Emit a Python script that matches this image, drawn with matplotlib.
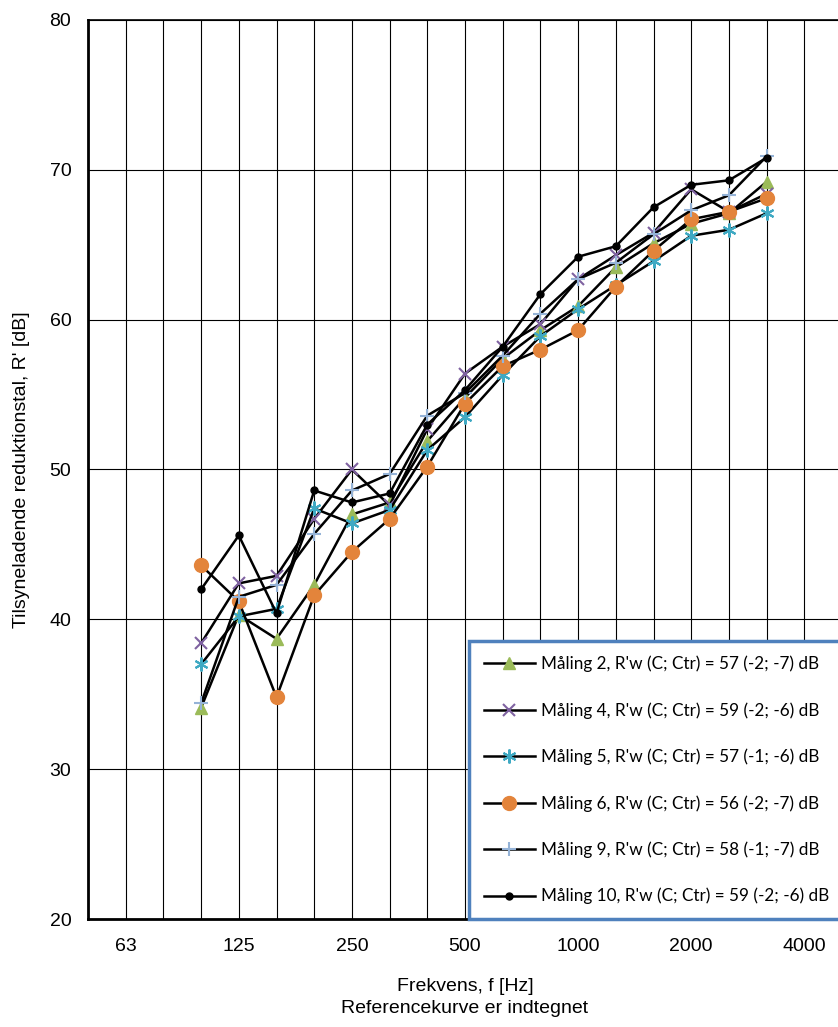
import numpy as np
import matplotlib
matplotlib.use('Agg')
import matplotlib.pyplot as plt

# third-octave bands on the x axis (category positions)
bands = ['50', '63', '80', '100', '125', '160', '200', '250', '315', '400', '500',
         '630', '800', '1000', '1250', '1600', '2000', '2500', '3150', '4000', '5000']
tick_labels = ['63', '125', '250', '500', '1000', '2000', '4000']
meas_bands = ['100', '125', '160', '200', '250', '315', '400', '500', '630', '800',
              '1000', '1250', '1600', '2000', '2500', '3150']

m2 = [34.1, 40.3, 38.7, 42.3, 47.0, 47.8, 51.9, 54.8, 57.4, 59.3, 60.9, 63.5, 65.1, 66.4, 67.1, 69.2]
m4 = [38.4, 42.4, 42.9, 46.7, 50.0, 47.6, 52.7, 56.4, 58.2, 59.7, 62.7, 64.3, 65.8, 68.7, 67.2, 68.4]
m5 = [37.0, 40.2, 40.7, 47.4, 46.4, 47.3, 51.3, 53.5, 56.3, 58.9, 60.7, 62.3, 63.9, 65.6, 66.0, 67.1]
m6 = [43.6, 41.2, 34.8, 41.6, 44.5, 46.7, 50.2, 54.4, 56.9, 58.0, 59.3, 62.2, 64.6, 66.7, 67.2, 68.1]
m9 = [34.4, 41.5, 42.3, 45.7, 48.6, 49.7, 53.6, 55.1, 57.6, 60.4, 62.7, 63.8, 65.7, 67.3, 68.3, 70.9]
m10 = [42.0, 45.6, 40.4, 48.6, 47.8, 48.4, 53.0, 55.3, 58.2, 61.7, 64.2, 64.9, 67.5, 69.0, 69.3, 70.8]

labels = ["Måling 2, R'w (C; Ctr) = 57 (-2; -7) dB",
          "Måling 4, R'w (C; Ctr) = 59 (-2; -6) dB",
          "Måling 5, R'w (C; Ctr) = 57 (-1; -6) dB",
          "Måling 6, R'w (C; Ctr) = 56 (-2; -7) dB",
          "Måling 9, R'w (C; Ctr) = 58 (-1; -7) dB",
          "Måling 10, R'w (C; Ctr) = 59 (-2; -6) dB"]

plt.rcParams['font.family'] = ['Liberation Sans', 'DejaVu Sans']

fig = plt.figure(figsize=(8.38, 10.27), dpi=100)
ax = fig.add_axes([88/838, 1-919/1027, 754/838, 899/1027])

x = np.array([bands.index(b) for b in meas_bands])

styles = [
    dict(marker='^', ms=9, mfc='#9BBB59', mec='#9BBB59'),
    dict(marker='x', ms=9, mew=1.5, mec='#7F62A1'),
    dict(marker=(6, 2, 0), ms=10, mew=1.5, mec='#3FA9C3'),
    dict(marker='o', ms=10, mfc='#E3843B', mec='#E3843B'),
    dict(marker='+', ms=10, mew=1.5, mec='#95B3D7'),
    dict(marker='o', ms=5, mfc='black', mec='black'),
]
for vals, st, lab in zip([m2, m4, m5, m6, m9, m10], styles, labels):
    ax.plot(x, vals, color='black', lw=1.8, label=lab, **st)

ax.set_xlim(0, len(bands) - 1)
ax.set_ylim(20, 80)
# gridline at every band, label only on the octave bands
ax.set_xticks(range(len(bands)))
ax.set_xticklabels([b if b in tick_labels else '' for b in bands])
ax.set_yticks(range(20, 81, 10))
ax.tick_params(which='both', length=0, labelsize=14)
ax.tick_params(axis='x', pad=14)
ax.tick_params(axis='y', pad=12)
ax.grid(True, axis='both', color='black', lw=0.8)
ax.set_axisbelow(True)
for s in ['left', 'bottom']:
    ax.spines[s].set_linewidth(2.0)
ax.spines['top'].set_linewidth(1.2)

ax.set_ylabel("Tilsyneladende reduktionstal, R' [dB]", fontsize=14, labelpad=14)
ax.set_xlabel("Frekvens, f [Hz]\nReferencekurve er indtegnet", fontsize=14, labelpad=16,
              linespacing=1.4)

# legend box runs past the right edge of the picture, as in the original
leg = ax.legend(loc='lower left', bbox_to_anchor=((469-88)/754, 0.0, 0.55, 1.0), mode='expand',
                borderaxespad=0, fancybox=False, framealpha=1, edgecolor='#4F81BD',
                prop={'family': 'Lato', 'size': 12.3},
                handlelength=3.0, labelspacing=1.75, borderpad=0.85, handletextpad=0.35)
leg.get_frame().set_linewidth(2.5)

fig.savefig('out.png', dpi=100)
